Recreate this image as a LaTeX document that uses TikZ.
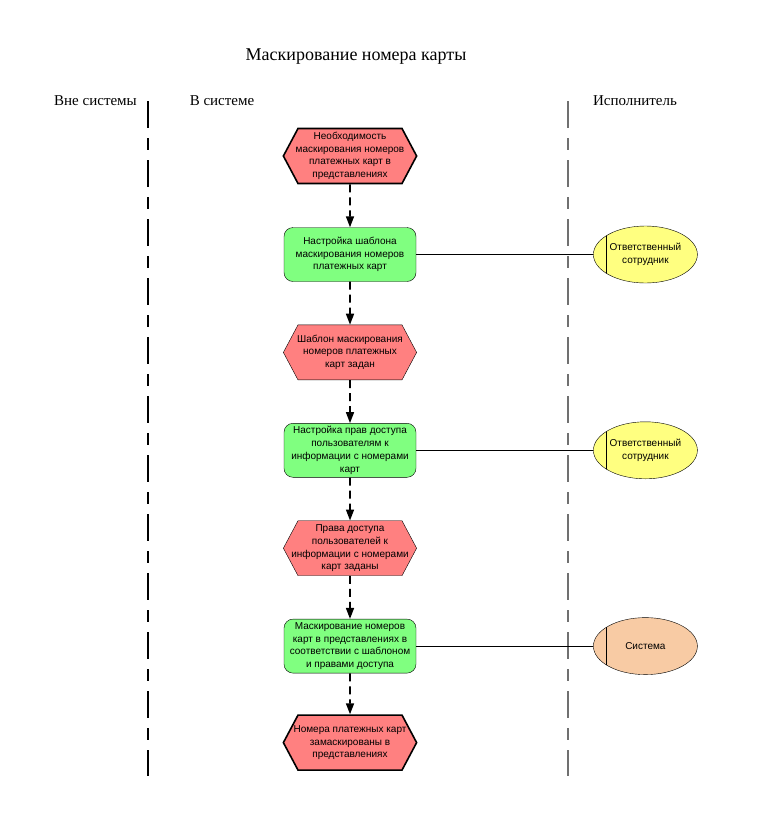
\documentclass[tikz,border=0pt]{standalone}
\usepackage{fontspec}
\setmainfont{Liberation Serif}
\newfontfamily\boxfont{Liberation Sans}
\usetikzlibrary{shapes.symbols, shapes.geometric, arrows.meta, positioning}
\definecolor{eventred}{HTML}{FF8080}
\definecolor{funcgreen}{HTML}{80FF80}
\definecolor{roleyellow}{HTML}{FFFF80}
\definecolor{syspeach}{HTML}{F8CBA4}
\definecolor{lanegray}{HTML}{707070}
% event text: fixed-width box, long lines stick out evenly on both sides
\newcommand{\evtext}[1]{\makebox[104pt]{\begin{tabular}{@{}c@{}}#1\end{tabular}}}

\begin{document}
\begin{tikzpicture}[x=1pt, y=-1pt, >={Triangle[length=11pt,width=8pt]},
 node distance=43pt]
 \tikzstyle{event} = [signal, signal to=west and east, signal pointer angle=124, draw,
   fill=eventred, minimum height=55pt, inner sep=0pt,
   font=\boxfont\fontsize{10}{12.7}\selectfont]
 \tikzstyle{edge event} = [event, line width=1.6pt]
 \tikzstyle{func} = [rectangle, rounded corners=9pt, draw, fill=funcgreen,
   minimum width=132pt, minimum height=54pt, inner sep=0pt, align=center,
   font=\boxfont\fontsize{10}{12.7}\selectfont]
 \tikzstyle{role} = [ellipse, draw, fill=roleyellow, minimum width=104pt, minimum height=57pt,
   inner sep=0pt, align=center, font=\boxfont\fontsize{10}{12.7}\selectfont,
   path picture={\draw ([xshift=13pt]path picture bounding box.north west)
     -- ([xshift=13pt]path picture bounding box.south west);}]
 \tikzstyle{flow} = [->, line width=1.6pt, dash pattern=on 8pt off 5pt]
 \tikzstyle{lane} = [line width=2pt, dash pattern=on 27pt off 10pt on 12pt off 10pt]
 \tikzstyle{lanetitle} = [font=\fontsize{15}{18}\selectfont]

 \useasboundingbox (0,0) rectangle (756,828);

 % headings
 \node (title) at (356,57) {\fontsize{18}{21}\selectfont Маскирование номера карты};
 \node[lanetitle] (outside) at (95.5,101) {Вне системы};
 \node[lanetitle] (inside) at (222,101) {В системе};
 \node[lanetitle] (actor) at (635,101) {Исполнитель};

 % swimlane borders
 \coordinate (lane1top) at (148,101);
 \coordinate (lane1bot) at (148,776);
 \coordinate (lane2top) at (568,101);
 \coordinate (lane2bot) at (568,776);
 \draw[lane] (lane1top) -- (lane1bot);
 \draw[lane, lanegray, line width=1.5pt] (lane2top) -- (lane2bot);

 % process chain
 \node[edge event] (e1) at (350,156) {\evtext{Необходимость\\маскирования номеров\\платежных карт в\\представлениях}};
 \node[func] (f1) [below=of e1] {Настройка шаблона\\маскирования номеров\\платежных карт};
 \node[event] (e2) [below=of f1] {\evtext{Шаблон маскирования\\номеров платежных\\карт задан}};
 \node[func] (f2) [below=of e2] {Настройка прав доступа\\пользователям к\\информации с номерами\\карт};
 \node[event] (e3) [below=of f2] {\evtext{Права доступа\\пользователей к\\информации с номерами\\карт заданы}};
 \node[func] (f3) [below=of e3] {Маскирование номеров\\карт в представлениях в\\соответствии с шаблоном\\и правами доступа};
 \node[edge event] (e4) [below=41pt of f3] {\evtext{Номера платежных карт\\замаскированы в\\представлениях}};

 % performers
 \node[role] (r1) [right=177pt of f1] {Ответственный\\сотрудник};
 \node[role] (r2) [right=177pt of f2] {Ответственный\\сотрудник};
 \node[role, fill=syspeach] (r3) [right=177pt of f3] {Система};

 \draw[flow] (e1) -- (f1);
 \draw[flow] (f1) -- (e2);
 \draw[flow] (e2) -- (f2);
 \draw[flow] (f2) -- (e3);
 \draw[flow] (e3) -- (f3);
 \draw[flow] (f3) -- (e4);

 \draw (f1) -- (r1);
 \draw (f2) -- (r2);
 \draw (f3) -- (r3);
\end{tikzpicture}
\end{document}
